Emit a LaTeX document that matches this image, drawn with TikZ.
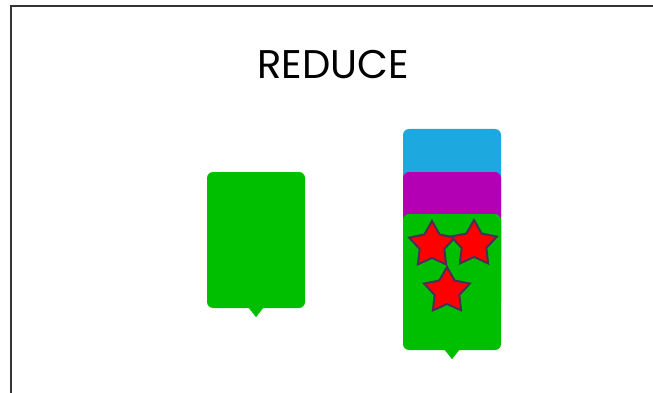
\documentclass[tikz,border=0pt]{standalone}
\usepackage{fontspec}
\setmainfont{Poppins}
\usepackage{tikz}
\usetikzlibrary{shapes.geometric,positioning}
\definecolor{cardgreen}{RGB}{0,191,0}
\definecolor{cardblue}{RGB}{29,169,224}
\definecolor{cardpurple}{RGB}{180,0,180}
\definecolor{starred}{RGB}{255,0,0}
\definecolor{staredge}{RGB}{70,50,85}
\definecolor{framegray}{RGB}{51,51,51}
\tikzstyle{card}=[rectangle,rounded corners=6pt,minimum width=98pt,
  minimum height=136pt,inner sep=0pt]
\tikzstyle{redstar}=[star,star points=5,star point ratio=1.85,minimum size=48pt,
  inner sep=0pt,fill=starred,draw=staredge,line width=2pt]
\newcommand{\cardtip}[2]{\fill[#2] ([xshift=-7.5pt,yshift=0.5pt]#1.south) --
  ([xshift=7.5pt,yshift=0.5pt]#1.south) -- ([yshift=-9pt]#1.south) -- cycle;}

\begin{document}
\begin{tikzpicture}[x=1pt,y=1pt]
  \useasboundingbox (0,0) rectangle (653,-393);

  % Cadre
  \draw[framegray,line width=2pt] (10.5,-400) -- (10.5,-6.5) -- (660,-6.5);

  % Titre
  \node[font=\fontsize{40}{48}\selectfont,anchor=base] (title) at (333,-79) {REDUCE};

  % Carte seule
  \node[card,fill=cardgreen] (single) at (256,-240) {};
  \cardtip{single}{cardgreen}

  % Pile de cartes
  \node[card,fill=cardblue]   (blue)   at (452,-197) {};
  \cardtip{blue}{cardblue}
  \node[card,fill=cardpurple] (purple) at (452,-240) {};
  \cardtip{purple}{cardpurple}
  \node[card,fill=cardgreen]  (green)  at (452,-282) {};
  \cardtip{green}{cardgreen}

  % Etoiles
  \node[redstar] (starA) at (432,-245) {};
  \node[redstar] (starB) at (474,-244) {};
  \node[redstar] (starC) at (447,-291) {};

\end{tikzpicture}
\end{document}
